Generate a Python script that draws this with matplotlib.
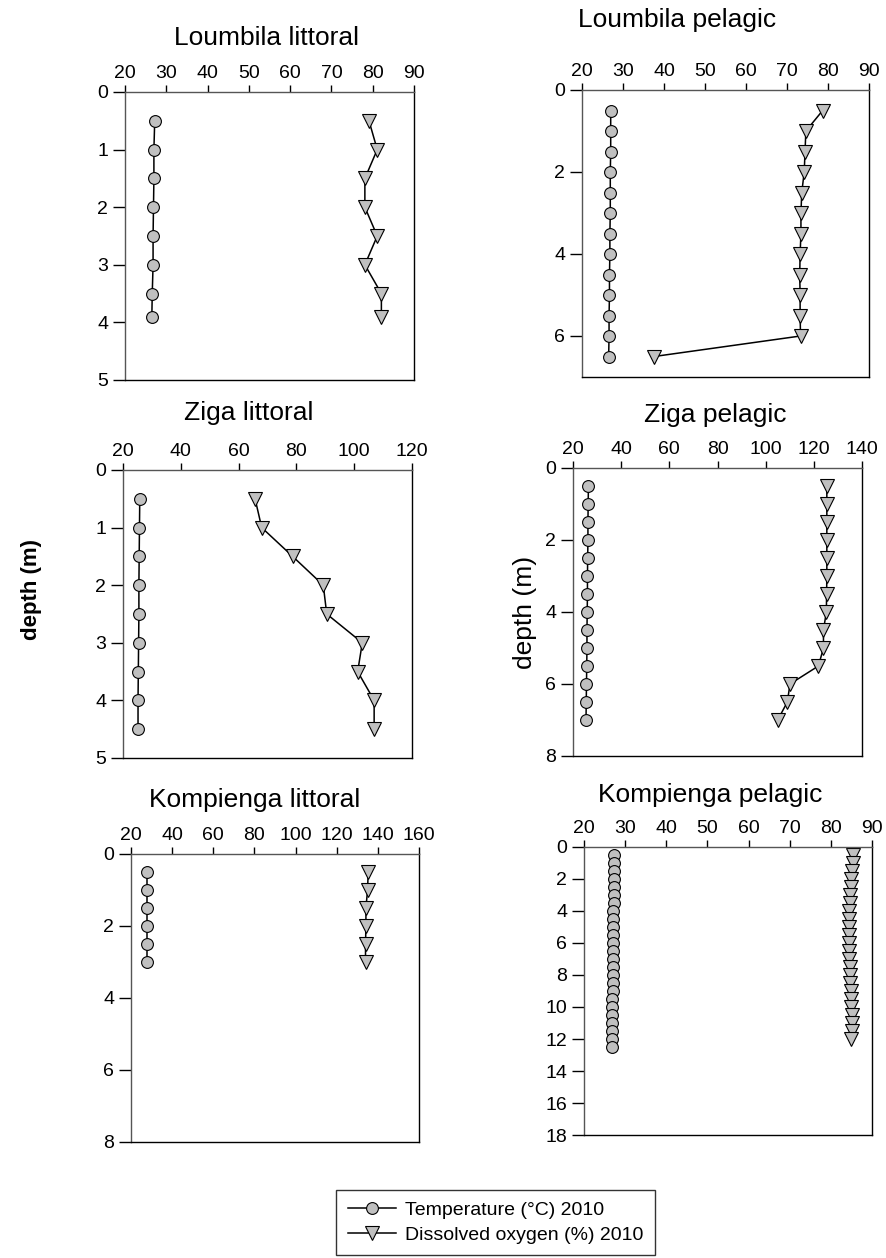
import matplotlib
matplotlib.use("Agg")
from matplotlib import pyplot as plt
from matplotlib.ticker import MultipleLocator

plt.rcParams['font.family'] = ['Liberation Sans', 'DejaVu Sans']

# Profundidades e valores
# Loumbila littoral
loum_lit_depth = [0.5, 1.0, 1.5, 2.0, 2.5, 3.0, 3.5, 3.9]
loum_lit_temp = [27.2, 27.0, 27.0, 26.9, 26.8, 26.8, 26.6, 26.5]
loum_lit_oxy = [79.1, 81.1, 78.1, 78.1, 81.1, 78.1, 82.1, 82.1]

# Loumbila pelagic
loum_pel_depth = [0.5, 1.0, 1.5, 2.0, 2.5, 3.0, 3.5, 4.0, 4.5, 5.0, 5.5, 6.0, 6.5]
loum_pel_temp = [27.0, 27.0, 27.0, 26.9, 26.9, 26.9, 26.8, 26.8, 26.7, 26.7, 26.6, 26.6, 26.5]
loum_pel_oxy = [78.7, 74.6, 74.4, 74.2, 73.6, 73.4, 73.4, 73.2, 73.1, 73.2, 73.2, 73.3, 37.6]

# Ziga littoral
ziga_lit_depth = [0.5, 1.0, 1.5, 2.0, 2.5, 3.0, 3.5, 4.0, 4.5]
ziga_lit_temp = [25.8, 25.7, 25.6, 25.5, 25.5, 25.4, 25.3, 25.2, 25.2]
ziga_lit_oxy = [65.7, 68.0, 78.7, 89.3, 90.5, 102.8, 101.2, 106.9, 106.9]

# Ziga pelagic
ziga_pel_depth = [0.5, 1.0, 1.5, 2.0, 2.5, 3.0, 3.5, 4.0, 4.5, 5.0, 5.5, 6.0, 6.5, 7.0]
ziga_pel_temp = [26.4, 26.3, 26.2, 26.2, 26.1, 26.0, 26.0, 25.9, 25.8, 25.8, 25.7, 25.6, 25.5, 25.4]
ziga_pel_oxy = [125.4, 125.4, 125.4, 125.4, 125.4, 125.4, 125.3, 125.2, 124.0, 124.0, 121.9, 110.1, 109.0, 105.0]

# Kompienga littoral
komp_lit_depth = [0.5, 1.0, 1.5, 2.0, 2.5, 3.0]
komp_lit_temp = [27.6, 27.6, 27.6, 27.6, 27.6, 27.6]
komp_lit_oxy = [135.3, 135.0, 134.2, 134.2, 134.0, 134.0]

# Kompienga pelagic
komp_pel_depth_t = [0.5, 1.0, 1.5, 2.0, 2.5, 3.0, 3.5, 4.0, 4.5, 5.0, 5.5, 6.0, 6.5,
                    7.0, 7.5, 8.0, 8.5, 9.0, 9.5, 10.0, 10.5, 11.0, 11.5, 12.0, 12.5]
komp_pel_temp = [27.3, 27.3, 27.3, 27.2, 27.2, 27.2, 27.2, 27.1, 27.1, 27.1, 27.1, 27.0, 27.0,
                 27.0, 27.0, 27.0, 27.0, 27.0, 26.9, 26.9, 26.9, 26.9, 26.9, 26.9, 26.9]
komp_pel_depth_o = komp_pel_depth_t[:-1]
komp_pel_oxy = [85.5, 85.3, 85.1, 85.0, 84.8, 84.7, 84.6, 84.5, 84.4, 84.3, 84.3, 84.3,
                84.4, 84.5, 84.6, 84.6, 84.7, 84.8, 84.9, 85.0, 85.1, 85.1, 85.2, 85.0]

# Títulos dos painéis
titles = ["Loumbila littoral", "Loumbila pelagic", "Ziga littoral",
          "Ziga pelagic", "Kompienga littoral", "Kompienga pelagic"]

W, H = 886, 1258
fig = plt.figure(figsize=(W / 100, H / 100), dpi=100)

# posição dos eixos em pixels: (esquerda, topo, largura, altura)
boxes = [(125, 92, 289, 288), (582, 90, 287, 287),
         (123, 470, 289, 288), (573, 468, 289, 288),
         (131, 854, 288, 288), (584, 847, 288, 288)]
# centro dos títulos em pixels
title_pos = [(267, 38), (677, 20), (249, 413), (715, 415), (255, 800), (710, 795)]

panels = [
    (loum_lit_depth, loum_lit_temp, loum_lit_depth, loum_lit_oxy, (20, 90, 10), (5, 1)),
    (loum_pel_depth, loum_pel_temp, loum_pel_depth, loum_pel_oxy, (20, 90, 10), (7, 2)),
    (ziga_lit_depth, ziga_lit_temp, ziga_lit_depth, ziga_lit_oxy, (20, 120, 20), (5, 1)),
    (ziga_pel_depth, ziga_pel_temp, ziga_pel_depth, ziga_pel_oxy, (20, 140, 20), (8, 2)),
    (komp_lit_depth, komp_lit_temp, komp_lit_depth, komp_lit_oxy, (20, 160, 20), (8, 2)),
    (komp_pel_depth_t, komp_pel_temp, komp_pel_depth_o, komp_pel_oxy, (20, 90, 10), (18, 2)),
]

axes = []
for i, (dt, t, do, o, xl, yl) in enumerate(panels):
    l, tp, w, h = boxes[i]
    ax = fig.add_axes([l / W, 1 - (tp + h) / H, w / W, h / H])
    ax.plot(t, dt, color='black', lw=1.1, marker='o', ms=8.5,
            mfc='#c0c0c0', mec='black', mew=0.8, label='Temperature (°C) 2010')
    ax.plot(o, do, color='black', lw=1.1, marker='v', ms=9.5,
            mfc='#c0c0c0', mec='black', mew=0.8, label='Dissolved oxygen (%) 2010')
    ax.set_xlim(xl[0], xl[1])
    ax.xaxis.set_major_locator(MultipleLocator(xl[2]))
    ax.set_ylim(yl[0], 0)
    ax.yaxis.set_major_locator(MultipleLocator(yl[1]))
    ax.xaxis.tick_top()
    ax.tick_params(axis='x', direction='out', length=5, width=1, labelsize=14, pad=2)
    ax.tick_params(axis='y', direction='out', length=9, width=1, labelsize=14, pad=3)
    ax.spines['left'].set_color('#555555')
    ax.spines['top'].set_color('#555555')
    for s in ax.spines.values():
        s.set_linewidth(1.0)
    cx, cy = title_pos[i]
    fig.text(cx / W, 1 - cy / H, titles[i], fontsize=19, ha='center', va='center')
    axes.append(ax)

axes[3].set_ylabel("depth (m)", fontsize=19, labelpad=6)

# rótulo geral em negrito
fig.text(32 / W, 1 - 590 / H, "depth (m)", fontsize=16, fontweight='bold',
         rotation=90, ha='center', va='center')

handles, labels = axes[0].get_legend_handles_labels()
fig.legend(handles, labels, loc='upper left', bbox_to_anchor=(336 / W, 1 - 1190 / H),
           fontsize=14, frameon=True, fancybox=False, framealpha=1, edgecolor='#333333',
           borderaxespad=0, borderpad=0.6, labelspacing=0.35, handlelength=2.5,
           handletextpad=0.45)

fig.savefig("out.png", dpi=100)
